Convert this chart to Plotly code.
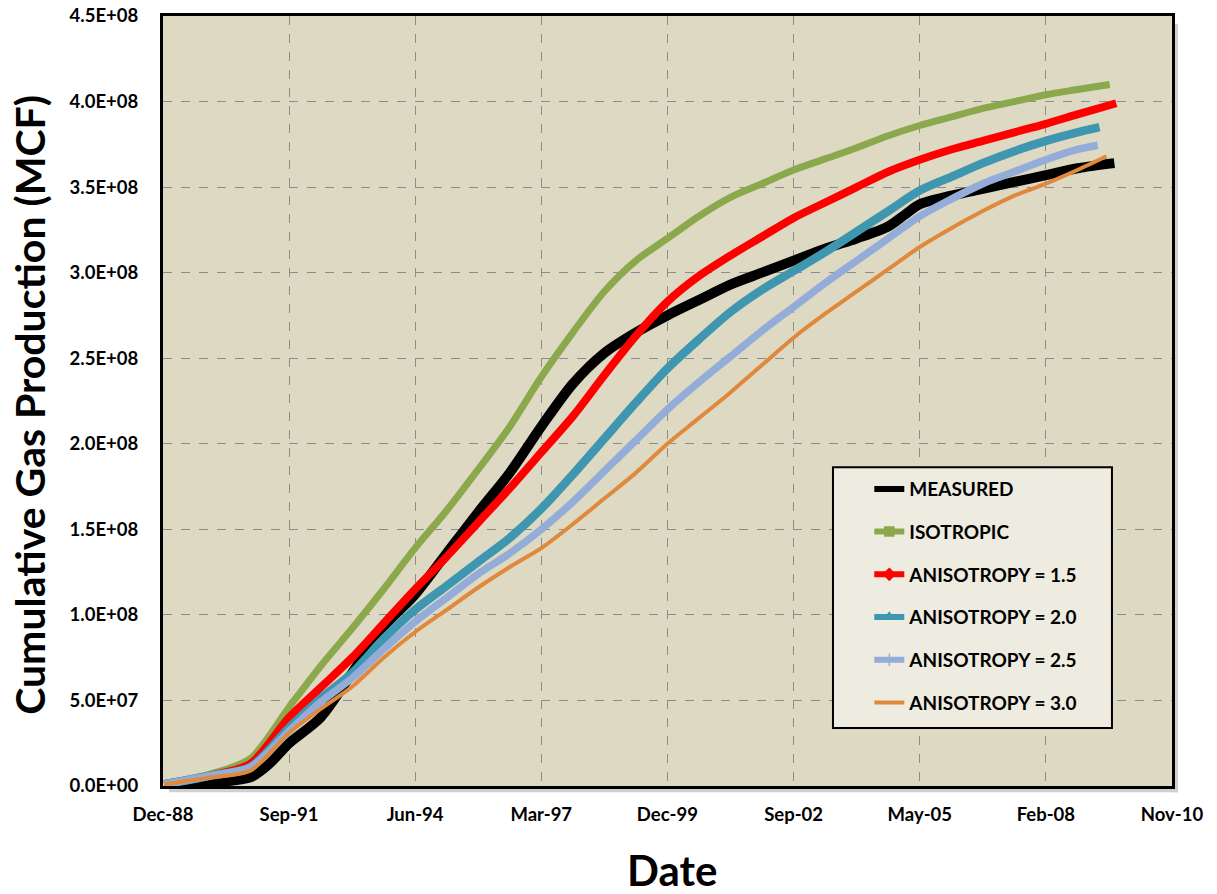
import plotly.graph_objects as go

# ---------------- data (values in units of 1e8 MCF) ----------------
grid_dates = ["1989-01-01", "1990-01-01", "1990-11-15", "1991-09-18", "1992-05-25",
              "1993-01-30", "1993-10-07", "1994-06-14", "1995-02-19", "1995-10-27",
              "1996-07-03", "1997-03-10", "1997-11-15", "1998-07-23", "1999-03-30",
              "1999-12-05", "2000-08-11", "2001-04-18", "2001-12-24", "2002-09-01",
              "2003-05-09", "2004-01-14", "2004-09-20", "2005-05-28", "2006-02-02",
              "2006-10-10", "2007-06-17", "2008-02-22", "2008-10-29"]

isotropic_end = "2009-07-12"
isotropic = [0.01, 0.07, 0.16, 0.46, 0.70, 0.92, 1.15, 1.39, 1.61, 1.85,
             2.10, 2.39, 2.65, 2.89, 3.07, 3.20, 3.33, 3.44, 3.52, 3.60,
             3.665, 3.73, 3.80, 3.86, 3.91, 3.96, 4.00, 4.04, 4.07, 4.10]

aniso15_end = "2009-09-02"
aniso15 = [0.01, 0.06, 0.13, 0.40, 0.575, 0.75, 0.95, 1.15, 1.34, 1.54,
           1.74, 1.95, 2.16, 2.40, 2.63, 2.83, 2.98, 3.10, 3.21, 3.32,
           3.41, 3.50, 3.59, 3.66, 3.72, 3.77, 3.82, 3.87, 3.925, 3.99]

aniso20_end = "2009-04-22"
aniso20 = [0.01, 0.06, 0.11, 0.34, 0.51, 0.66, 0.86, 1.03, 1.17, 1.31,
           1.45, 1.62, 1.82, 2.03, 2.24, 2.44, 2.61, 2.77, 2.90, 3.01,
           3.12, 3.24, 3.36, 3.48, 3.56, 3.64, 3.71, 3.77, 3.82, 3.85]

aniso25_end = "2009-04-08"
aniso25 = [0.01, 0.06, 0.11, 0.32, 0.49, 0.63, 0.80, 0.96, 1.10, 1.24,
           1.36, 1.50, 1.66, 1.84, 2.02, 2.20, 2.36, 2.51, 2.66, 2.80,
           2.94, 3.07, 3.20, 3.33, 3.43, 3.52, 3.59, 3.66, 3.72, 3.745]

aniso30_end = "2009-06-17"
aniso30 = [0.01, 0.05, 0.09, 0.31, 0.45, 0.58, 0.75, 0.90, 1.03, 1.16,
           1.28, 1.39, 1.53, 1.68, 1.83, 2.00, 2.15, 2.30, 2.46, 2.62,
           2.76, 2.89, 3.02, 3.15, 3.26, 3.36, 3.45, 3.52, 3.60, 3.68]

measured_dates = ["1989-01-01", "1990-01-01", "1990-11-15", "1991-04-15", "1991-09-18",
                  "1992-05-25", "1993-01-30", "1993-10-07", "1994-06-14", "1995-02-19",
                  "1995-10-27", "1996-07-03", "1997-03-10", "1997-11-15", "1998-07-23",
                  "1999-03-30", "1999-12-05", "2000-08-11", "2001-04-18", "2001-12-24",
                  "2002-09-01", "2003-05-09", "2004-01-14", "2004-09-20", "2005-02-01",
                  "2005-05-28", "2006-02-02", "2006-10-10", "2007-06-17", "2008-02-22",
                  "2008-10-29", "2009-08-18"]
measured = [0.005, 0.02, 0.05, 0.13, 0.25, 0.40, 0.66, 0.93, 1.12, 1.36,
            1.60, 1.83, 2.10, 2.35, 2.53, 2.65, 2.75, 2.84, 2.93, 3.00,
            3.07, 3.14, 3.20, 3.27, 3.34, 3.40, 3.45, 3.49, 3.53, 3.57,
            3.61, 3.64]

x_tick_vals = ["1988-12-23", "1991-09-18", "1994-06-14", "1997-03-10", "1999-12-05",
               "2002-09-01", "2005-05-28", "2008-02-22", "2010-11-18"]
x_tick_text = ["Dec-88", "Sep-91", "Jun-94", "Mar-97", "Dec-99",
               "Sep-02", "May-05", "Feb-08", "Nov-10"]
y_tick_vals_1e8 = [0, 0.5, 1.0, 1.5, 2.0, 2.5, 3.0, 3.5, 4.0, 4.5]
y_tick_text = ["0.0E+00", "5.0E+07", "1.0E+08", "1.5E+08", "2.0E+08",
               "2.5E+08", "3.0E+08", "3.5E+08", "4.0E+08", "4.5E+08"]

SCALE = 1e8

series = [
    ("MEASURED", measured_dates, measured, "#000000", 10, None),
    ("ISOTROPIC", grid_dates + [isotropic_end], isotropic, "#8BA94C", 7, "square"),
    ("ANISOTROPY = 1.5", grid_dates + [aniso15_end], aniso15, "#FF0000", 8, "diamond"),
    ("ANISOTROPY = 2.0", grid_dates + [aniso20_end], aniso20, "#3E96B0", 8.5, "triangle-up-open"),
    ("ANISOTROPY = 2.5", grid_dates + [aniso25_end], aniso25, "#93ADD8", 7.5, "cross-thin-open"),
    ("ANISOTROPY = 3.0", grid_dates + [aniso30_end], aniso30, "#E0893C", 4, None),
]

FONT = "Lato"
fig = go.Figure()

for name, xs, ys, color, width, sym in series:
    fig.add_trace(go.Scatter(
        x=xs, y=[v * SCALE for v in ys], mode="lines", name=name,
        line=dict(color=color, width=width, shape="spline", smoothing=0.8),
        showlegend=False, hoverinfo="skip"))

# legend-only entries (line + marker symbol as in the original legend)
for i, (name, xs, ys, color, width, sym) in enumerate(series):
    lw = min(width, 6)
    if sym is None:
        fig.add_trace(go.Scatter(x=[None], y=[None], mode="lines", name=name,
                                 legendgroup=f"g{i}",
                                 line=dict(color=color, width=lw)))
    else:
        fig.add_trace(go.Scatter(x=[None], y=[None], mode="lines+markers", name=name,
                                 legendgroup=f"g{i}",
                                 line=dict(color=color, width=lw),
                                 marker=dict(symbol=sym, size=9, color=color,
                                             line=dict(color=color, width=1.5))))

# legend box
fig.add_shape(type="rect", xref="paper", yref="paper",
              x0=0.664, x1=0.9405, y0=0.0753, y1=0.414,
              fillcolor="#EEECE1", line=dict(color="#000000", width=2), layer="above")

# soft shadow of the plot frame
fig.add_shape(type="rect", xref="paper", yref="paper",
              x0=1.0, x1=1.006, y0=-0.008, y1=0.99,
              fillcolor="#D0D0D0", line=dict(width=0), layer="below")
fig.add_shape(type="rect", xref="paper", yref="paper",
              x0=0.006, x1=1.006, y0=-0.008, y1=0.0,
              fillcolor="#D0D0D0", line=dict(width=0), layer="below")

# axis titles
fig.add_annotation(text="<b>Date</b>", xref="paper", yref="paper",
                   x=0.5045, y=-0.109, xanchor="center", yanchor="middle",
                   showarrow=False, font=dict(family=FONT, size=42, color="#000000"))
fig.add_annotation(text="<b>Cumulative Gas Production (MCF)</b>", xref="paper", yref="paper",
                   x=-0.1318, y=0.495, xanchor="center", yanchor="middle", textangle=-90,
                   showarrow=False, font=dict(family=FONT, size=41, color="#000000"))

fig.update_layout(
    width=1217, height=894,
    margin=dict(l=163, r=45, t=16, b=108, autoexpand=False),
    paper_bgcolor="#FFFFFF",
    plot_bgcolor="#DDD9C3",
    font=dict(family=FONT, color="#000000"),
    legend=dict(x=0.700, y=0.4103, xanchor="left", yanchor="top",
                bgcolor="rgba(0,0,0,0)", borderwidth=0,
                font=dict(family=FONT, size=19, color="#000000", weight="bold"),
                tracegroupgap=15, traceorder="grouped"),
    xaxis=dict(
        type="date", range=["1988-12-23", "2010-11-18"],
        tickvals=x_tick_vals, ticktext=x_tick_text,
        tickfont=dict(family=FONT, size=18.5, weight="bold"),
        showgrid=True, gridcolor="#8C8C8C", griddash="dash", gridwidth=1,
        showline=True, linecolor="#000000", linewidth=3, mirror=True,
        ticks="", ticklabelstandoff=10, zeroline=False, automargin=False,
    ),
    yaxis=dict(
        range=[0, 4.5 * SCALE],
        tickvals=[v * SCALE for v in y_tick_vals_1e8], ticktext=y_tick_text,
        tickfont=dict(family=FONT, size=18.5, weight="bold"),
        showgrid=True, gridcolor="#8C8C8C", griddash="dash", gridwidth=1,
        showline=True, linecolor="#000000", linewidth=3, mirror=True,
        ticks="", ticklabelstandoff=18, zeroline=False, automargin=False,
    ),
)

fig.write_html("out.html")
